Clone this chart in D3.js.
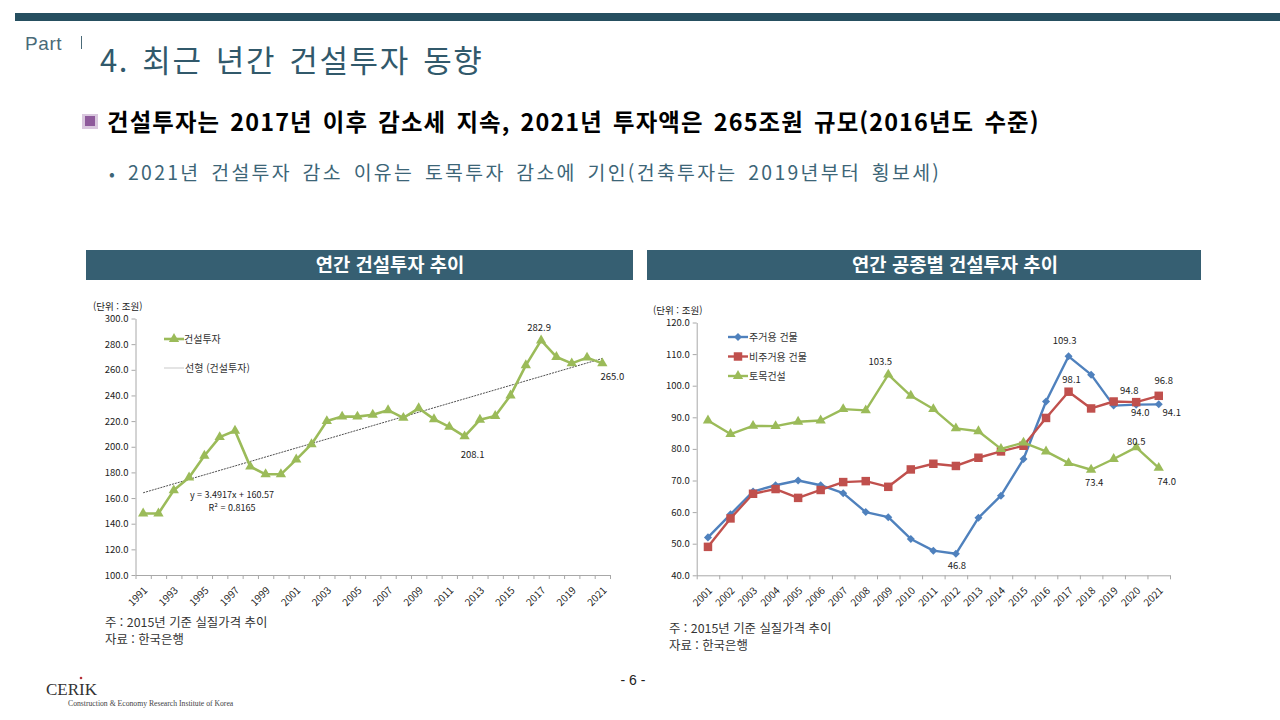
<!DOCTYPE html>
<html lang="ko">
<head>
<meta charset="utf-8">
<script src="https://cdn.jsdelivr.net/npm/d3@7"></script>
<style>
html,body{margin:0;padding:0;background:#fff;overflow:hidden}
svg{display:block}
text{font-family:"Noto Sans CJK KR","Noto Sans",sans-serif}
.domain,.tick line{stroke:#a8a8a8;stroke-width:1}
.tick text{fill:#222;font-family:"Noto Sans CJK KR","Liberation Sans",sans-serif}
</style>
</head>
<body>
<svg id="page" width="1280" height="720"></svg>
<script>
const yearsTotal = d3.range(1991, 2022).map(String);
const totalInvestment = [148,148,166,176,193,207.5,212.5,184.5,178.5,178.5,190,202,220,223.5,223.5,225,228.5,222.5,230,221.5,215.5,208.1,221,224,240,263.5,282.9,270,265,269.5,265];
const trendEndpoints = [164.1,268.8];
const totalTicks = [100,120,140,160,180,200,220,240,260,280,300];
const totalPointLabels = [["2017","282.9",-2,-9],["2012","208.1",8,22],["2021","265.0",10,17]];

const yearsType = d3.range(2001, 2022).map(String);
const residential = [52,59.3,66.5,68.5,70,68.5,66,60,58.4,51.5,47.8,46.8,58.2,65.2,76.8,95,109.3,103.5,93.7,94.0,94.1];
const nonResidential = [49,58,65.8,67.3,64.5,67,69.5,69.8,68,73.5,75.3,74.6,77.2,79.2,81,89.8,98.1,92.8,95,94.8,96.8];
const civil = [89,84.7,87.3,87.2,88.6,89,92.6,92.2,103.5,96.8,92.6,86.5,85.6,80,82,79.2,75.5,73.4,76.8,80.5,74];
const typeTicks = [40,50,60,70,80,90,100,110,120];
const typeLabels = [["2009","103.5",-8,-10],["2017","109.3",-4,-12],["2017","98.1",3,-9],["2020","94.8",-7,-8],["2021","96.8",5,-12],["2020","94.0",4,11],["2021","94.1",13,12],["2020","80.5",0,-2],["2018","73.4",3,16],["2021","74.0",8,17],["2012","46.8",1,15]];

const colGreen = "#9bbb59", colBlue = "#4f81bd", colRed = "#c0504d", head = "#365f72";
const svg = d3.select("#page");

function txt(g, x, y, s, size, opt = {}) {
  const t = g.append("text").attr("x", x).attr("y", y).attr("font-size", size)
    .attr("fill", opt.fill || "#222").attr("font-weight", opt.weight || 400)
    .attr("text-anchor", opt.anchor || "start")
    .attr("letter-spacing", opt.spacing || 0)
    .attr("word-spacing", opt.words || 0).text(s);
  if (opt.family) t.style("font-family", opt.family);
  return t;
}

// Slide frame
svg.append("rect").attr("x",15).attr("y",13).attr("width",1265).attr("height",8).attr("fill","#264f60");
txt(svg,25,50,"Part",19,{fill:"#4a6a78",family:"Liberation Sans",spacing:.6});
svg.append("rect").attr("x",81).attr("y",36).attr("width",1).attr("height",13).attr("fill","#4a6a78");
txt(svg,100,72,"4. 최근 년간 건설투자 동향",31,{fill:"#31596b",spacing:1.6,words:3});
const ic = svg.append("g");
ic.append("rect").attr("x",82).attr("y",114).attr("width",16).attr("height",15).attr("fill","#d9c7de");
ic.append("rect").attr("x",85).attr("y",116).attr("width",10).attr("height",10).attr("fill","#8e5a9b");
txt(svg,107,131,"건설투자는 2017년 이후 감소세 지속, 2021년 투자액은 265조원 규모(2016년도 수준)",23.4,{fill:"#000",weight:700,spacing:1.12,words:2.5});
txt(svg,109,180,"•",17,{fill:"#3c6577"});
txt(svg,128,180,"2021년 건설투자 감소 이유는 토목투자 감소에 기인(건축투자는 2019년부터 횡보세)",19.4,{fill:"#3c6577",spacing:2.32,words:3});

svg.append("rect").attr("x",86).attr("y",250).attr("width",547).attr("height",30).attr("fill",head);
svg.append("rect").attr("x",647).attr("y",250).attr("width",554).attr("height",30).attr("fill",head);
txt(svg,390,272,"연간 건설투자 추이",18.8,{fill:"#fff",weight:700,anchor:"middle"});
txt(svg,955,272,"연간 공종별 건설투자 추이",18.8,{fill:"#fff",weight:700,anchor:"middle"});

const triangle = d3.symbol().type(d3.symbolTriangle).size(46);
const diamond = d3.symbol().type(d3.symbolDiamond2).size(41);
const square = d3.symbol().type(d3.symbolSquare).size(72);

function frame(cats, dom, ticks, L, T, R, B, labelCats) {
  const g = svg.append("g");
  const x = d3.scaleBand().domain(cats).range([L,R]);
  const y = d3.scaleLinear().domain(dom).range([B,T]);
  g.append("g").attr("transform",`translate(${L},0)`)
    .call(d3.axisLeft(y).tickValues(ticks).tickFormat(d3.format(".1f")).tickSize(4).tickPadding(3).tickSizeOuter(0))
    .call(a=>a.selectAll("text").attr("font-size",9.5));
  const edge = d3.scaleLinear().domain([0,cats.length]).range([L,R]);
  g.append("g").attr("transform",`translate(0,${B})`)
    .call(d3.axisBottom(edge).tickValues(d3.range(cats.length+1)).tickFormat("").tickSize(4).tickSizeOuter(0));
  const lab = g.append("g").attr("transform",`translate(0,${B})`)
    .call(d3.axisBottom(x).tickValues(labelCats).tickSize(0).tickPadding(0));
  lab.select(".domain").remove();
  lab.selectAll("text").attr("font-size",10).attr("text-anchor","end")
    .attr("dy",0).attr("transform","translate(5,16) rotate(-45)");
  return {g,x,y};
}

function series(c, values, color, symbol, width) {
  const cats = c.x.domain();
  const px = i => c.x(cats[i]) + c.x.bandwidth()/2;
  c.g.append("path").datum(values).attr("fill","none").attr("stroke",color).attr("stroke-width",width)
    .attr("stroke-linejoin","round")
    .attr("d",d3.line().x((d,i)=>px(i)).y(d=>c.y(d)));
  c.g.append("g").selectAll("path").data(values).join("path").attr("d",symbol).attr("fill",color)
    .attr("transform",(d,i)=>`translate(${px(i)},${c.y(d)})`);
}

function legend(g, x0, x1, tx, y, color, symbol, s, width) {
  g.append("line").attr("x1",x0).attr("x2",x1).attr("y1",y).attr("y2",y).attr("stroke",color).attr("stroke-width",width);
  if (symbol) g.append("path").attr("d",symbol).attr("fill",color).attr("transform",`translate(${(x0+x1)/2},${y})`);
  txt(g,tx,y+4,s,10,{fill:"#333"});
}

// Left chart
const c1 = frame(yearsTotal,[100,300],totalTicks,135.5,318.5,610,575,yearsTotal.filter((d,i)=>i%2===0));
const tx = c1.x(yearsTotal[0])+c1.x.bandwidth()/2, tx2 = c1.x(yearsTotal[30])+c1.x.bandwidth()/2;
c1.g.append("line").attr("x1",tx).attr("x2",tx2).attr("y1",c1.y(trendEndpoints[0])).attr("y2",c1.y(trendEndpoints[1]))
  .attr("stroke","#222").attr("stroke-width",.8).attr("stroke-dasharray","2 1");
series(c1,totalInvestment,colGreen,triangle,2.6);
totalPointLabels.forEach(([k,s,dx,dy])=>{
  const v = totalInvestment[yearsTotal.indexOf(k)];
  txt(c1.g,c1.x(k)+c1.x.bandwidth()/2+dx,c1.y(v)+dy,s,9.5,{anchor:"middle"});
});
txt(c1.g,232,498,"y = 3.4917x + 160.57",9,{anchor:"middle"});
txt(c1.g,232,511,"R² = 0.8165",9,{anchor:"middle"});
txt(c1.g,93,310,"(단위 : 조원)",9.5);
legend(c1.g,164,184,184,339,colGreen,triangle,"건설투자",2.6);
legend(c1.g,164,184,185,368,"#bbb",null,"선형 (건설투자)",.8);
txt(svg,105,627,"주 : 2015년 기준 실질가격 추이",12.4,{fill:"#333"});
txt(svg,105,644,"자료 : 한국은행",12.4,{fill:"#333"});

// Right chart
const c2 = frame(yearsType,[40,120],typeTicks,696.7,322.5,1170,575.3,yearsType);
series(c2,residential,colBlue,diamond,2.4);
series(c2,nonResidential,colRed,square,2.4);
series(c2,civil,colGreen,triangle,2.4);
const seriesByLabel = {"103.5":civil,"109.3":residential,"98.1":nonResidential,"94.8":nonResidential,"96.8":nonResidential,"94.0":residential,"94.1":residential,"80.5":civil,"73.4":civil,"74.0":civil,"46.8":residential};
typeLabels.forEach(([k,s,dx,dy])=>{
  const v = seriesByLabel[s][yearsType.indexOf(k)];
  txt(c2.g,c2.x(k)+c2.x.bandwidth()/2+dx,c2.y(v)+dy,s,9.5,{anchor:"middle"});
});
txt(c2.g,653,314,"(단위 : 조원)",9.5);
legend(c2.g,728,748,749,337,colBlue,diamond,"주거용 건물",2.4);
legend(c2.g,728,748,749,356.5,colRed,square,"비주거용 건물",2.4);
legend(c2.g,728,748,749,376,colGreen,triangle,"토목건설",2.4);
txt(svg,669,633,"주 : 2015년 기준 실질가격 추이",12.4,{fill:"#333"});
txt(svg,669,650,"자료 : 한국은행",12.4,{fill:"#333"});

// Footer
txt(svg,633,685,"- 6 -",14,{fill:"#222",anchor:"middle",family:"Liberation Sans"});
txt(svg,46,695,"CERIK",17,{fill:"#333",family:"Liberation Serif"});
svg.append("circle").attr("cx",81).attr("cy",678).attr("r",1.3).attr("fill","#b5303a");
txt(svg,68,706,"Construction & Economy Research Institute of Korea",7.7,{fill:"#444",family:"Liberation Serif"});
</script>
</body>
</html>
